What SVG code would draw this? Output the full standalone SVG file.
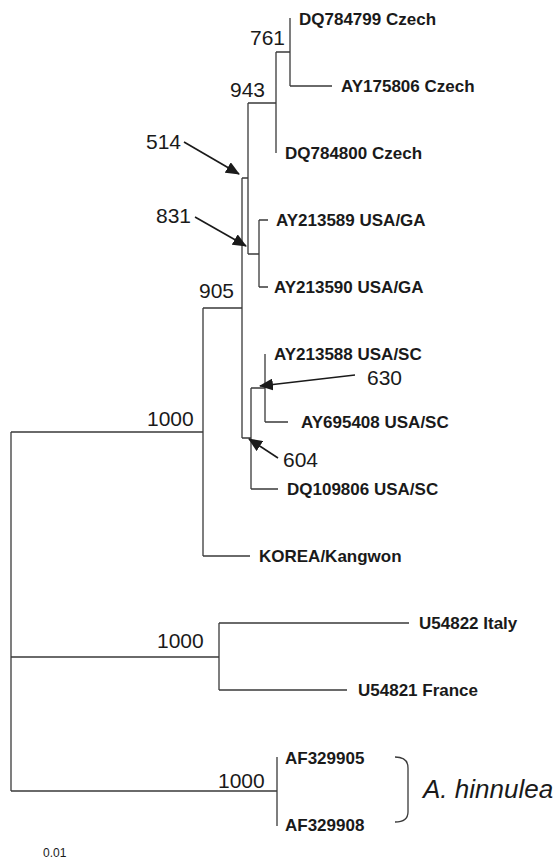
<svg xmlns="http://www.w3.org/2000/svg" width="555" height="859" viewBox="0 0 555 859">
<style>
.br{fill:none;stroke:#3a3a3a;stroke-width:1.3}
.ar{fill:none;stroke:#1a1a1a;stroke-width:1.6}
.tip{font-family:"Liberation Sans",Arial,sans-serif;font-weight:bold;font-size:17px;fill:#1a1a1a}
.bs{font-family:"Liberation Sans",Arial,sans-serif;font-size:21px;fill:#1a1a1a}
.sp{font-family:"Liberation Sans",Arial,sans-serif;font-style:italic;font-size:26px;fill:#1a1a1a}
.sc{font-family:"Liberation Sans",Arial,sans-serif;font-size:12px;fill:#1a1a1a}
</style>
<defs>
<marker id="ah" markerUnits="userSpaceOnUse" markerWidth="14" markerHeight="12" refX="13" refY="6" orient="auto">
<path d="M0,0 L14,6 L0,12 z" fill="#1a1a1a"/>
</marker>
</defs>
<g id="connectors">
<path class="br" d="M11,432 V791"/>
<path class="br" d="M11,432 H203 M203,308 V556 M203,308 H242 M203,556 H250"/>
<path class="br" d="M242,178 V438 M242,178 H248 M242,438 H251"/>
<path class="br" d="M248,103 V254 M248,103 H276 M248,254 H259"/>
<path class="br" d="M276,52 V153 M276,52 H290 M290,18 V86 M290,86 H332"/>
<path class="br" d="M259,220 V287 M259,220 H268 M259,287 H268"/>
<path class="br" d="M251,388 V489 M251,388 H265 M251,489 H278 M265,354 V422 M265,422 H288"/>
<path class="br" d="M11,657 H219 M219,623 V690 M219,623 H409 M219,690 H347"/>
<path class="br" d="M11,791 H277 M277,757 V826"/>
<path class="br" d="M395,757 Q408,757 408,768 V812 Q408,822 395,822"/>
<line class="ar" x1="184" y1="142" x2="239" y2="174" marker-end="url(#ah)"/>
<line class="ar" x1="195" y1="217" x2="246" y2="246" marker-end="url(#ah)"/>
<line class="ar" x1="355" y1="375" x2="260" y2="386" marker-end="url(#ah)"/>
<line class="ar" x1="278" y1="458" x2="249" y2="439" marker-end="url(#ah)"/>
</g>
<g id="n-DQ784799"><text class="tip" x="299" y="25">DQ784799 Czech</text></g>
<g id="n-AY175806"><text class="tip" x="341" y="92">AY175806 Czech</text></g>
<g id="n-DQ784800"><text class="tip" x="285" y="159">DQ784800 Czech</text></g>
<g id="n-AY213589"><text class="tip" x="276" y="226">AY213589 USA/GA</text></g>
<g id="n-AY213590"><text class="tip" x="274" y="293">AY213590 USA/GA</text></g>
<g id="n-AY213588"><text class="tip" x="274" y="360">AY213588 USA/SC</text></g>
<g id="n-AY695408"><text class="tip" x="301" y="428">AY695408 USA/SC</text></g>
<g id="n-DQ109806"><text class="tip" x="287" y="495">DQ109806 USA/SC</text></g>
<g id="n-KOREA"><text class="tip" x="259" y="562">KOREA/Kangwon</text></g>
<g id="n-U54822"><text class="tip" x="419" y="629">U54822 Italy</text></g>
<g id="n-U54821"><text class="tip" x="358" y="696">U54821 France</text></g>
<g id="n-AF329905"><text class="tip" x="285" y="764">AF329905</text></g>
<g id="n-AF329908"><text class="tip" x="285" y="831">AF329908</text></g>
<g id="n-hinnulea"><text class="sp" x="423" y="798">A. hinnulea</text></g>
<g id="bootstrap">
<text class="bs" x="250" y="45">761</text>
<text class="bs" x="230" y="97">943</text>
<text class="bs" x="146" y="149">514</text>
<text class="bs" x="156" y="223">831</text>
<text class="bs" x="199" y="298">905</text>
<text class="bs" x="367" y="385">630</text>
<text class="bs" x="283" y="467">604</text>
<text class="bs" x="147" y="426">1000</text>
<text class="bs" x="157" y="648">1000</text>
<text class="bs" x="218" y="788">1000</text>
</g>
<g id="scale"><text class="sc" x="43" y="857">0.01</text></g>
</svg>
